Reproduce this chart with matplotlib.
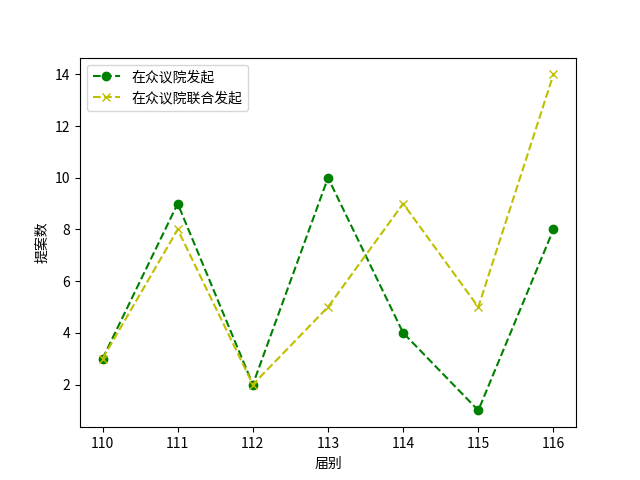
import matplotlib
matplotlib.use("Agg")
import matplotlib.pyplot as plt

plt.rcParams['font.family'] = ['Noto Sans CJK SC', 'DejaVu Sans']
plt.rcParams['axes.unicode_minus'] = False

sessions = [110, 111, 112, 113, 114, 115, 116]
house_initiated = [3, 9, 2, 10, 4, 1, 8]
house_joint = [3, 8, 2, 5, 9, 5, 14]

fig, ax = plt.subplots(figsize=(6.4, 4.8), dpi=100)
ax.plot(sessions, house_initiated, 'go--', label='在众议院发起')
ax.plot(sessions, house_joint, 'yx--', label='在众议院联合发起')
ax.set_xlabel('届别')
ax.set_ylabel('提案数')
ax.legend(loc='upper left')

fig.savefig('out.png')
